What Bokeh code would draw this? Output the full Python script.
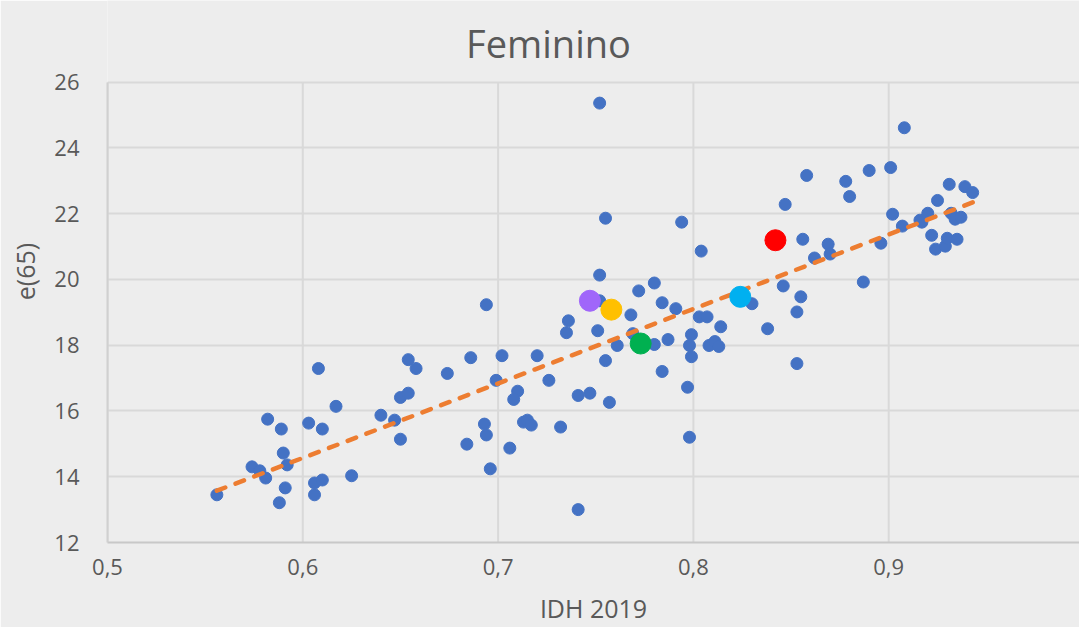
import numpy as np
from bokeh.plotting import figure
from bokeh.models import Range1d, FixedTicker
from bokeh.core.properties import value
from bokeh.embed import file_html
from bokeh.resources import INLINE

# ---- data ----
idh = [0.556, 0.574, 0.578, 0.581, 0.582, 0.589, 0.590, 0.592, 0.591, 0.588,
       0.603, 0.610, 0.608, 0.617, 0.606, 0.610, 0.606, 0.625, 0.640, 0.647,
       0.650, 0.650, 0.654, 0.654, 0.658, 0.674, 0.686, 0.702, 0.720, 0.699,
       0.710, 0.708, 0.726, 0.694, 0.693, 0.694, 0.684, 0.706, 0.696, 0.713,
       0.715, 0.717, 0.732, 0.741, 0.747, 0.757, 0.741, 0.736, 0.735, 0.751,
       0.755, 0.761, 0.752, 0.768, 0.772, 0.780, 0.784, 0.791, 0.769, 0.780,
       0.787, 0.784, 0.797, 0.798, 0.799, 0.798, 0.799, 0.803, 0.807, 0.814,
       0.808, 0.811, 0.813, 0.752, 0.755, 0.794, 0.804, 0.752, 0.847, 0.846,
       0.830, 0.838, 0.855, 0.853, 0.853, 0.887, 0.908, 0.858, 0.878, 0.880,
       0.890, 0.901, 0.856, 0.869, 0.870, 0.862, 0.896, 0.902, 0.907, 0.916,
       0.917, 0.920, 0.925, 0.931, 0.939, 0.943, 0.932, 0.934, 0.937, 0.922,
       0.924, 0.929, 0.930, 0.935]
e65 = [13.45, 14.30, 14.18, 13.96, 15.75, 15.45, 14.72, 14.36, 13.66, 13.21,
       15.63, 15.45, 17.29, 16.14, 13.81, 13.90, 13.45, 14.03, 15.87, 15.72,
       15.14, 16.41, 16.54, 17.56, 17.29, 17.14, 17.62, 17.68, 17.68, 16.93,
       16.60, 16.35, 16.93, 19.23, 15.60, 15.27, 14.99, 14.87, 14.24, 15.66,
       15.72, 15.57, 15.51, 16.47, 16.54, 16.26, 13.00, 18.74, 18.38, 18.44,
       17.53, 17.99, 19.35, 18.92, 19.65, 19.89, 19.29, 19.11, 18.35, 18.02,
       18.17, 17.20, 16.72, 15.20, 18.32, 17.99, 17.65, 18.86, 18.86, 18.56,
       17.99, 18.11, 17.96, 25.36, 21.86, 21.74, 20.86, 20.13, 22.28, 19.80,
       19.26, 18.50, 19.47, 19.01, 17.44, 19.92, 24.61, 23.16, 22.98, 22.52,
       23.31, 23.40, 21.22, 21.07, 20.77, 20.65, 21.10, 21.98, 21.62, 21.80,
       21.74, 22.01, 22.40, 22.89, 22.82, 22.64, 22.01, 21.83, 21.89, 21.34,
       20.92, 21.01, 21.25, 21.22]

hl_idh = [0.842, 0.824, 0.773, 0.758, 0.747]
hl_e65 = [21.19, 19.47, 18.05, 19.08, 19.35]
hl_colors = ["#FF0000", "#00B0F0", "#00B050", "#FFC000", "#A066FA"]

x_ticks = [0.5, 0.6, 0.7, 0.8, 0.9, 1.0]
x_tick_labels = ["0,5", "0,6", "0,7", "0,8", "0,9", "1"]
y_ticks = [12, 14, 16, 18, 20, 22, 24, 26]
y_min, y_max = 12, 26
title_text = "Feminino"

# linear trend from the data
slope, intercept = np.polyfit(idh, e65, 1)
tx = [min(idh), max(idh)]
ty = [slope * v + intercept for v in tx]

BG = "#EDEDED"
TXT = "#595959"
FONT = "Open Sans"
W, H = 1079, 627
LEFT, BOTTOM, AXIS_TOP = 107, 82, 82   # page pixels

# the frame reaches the top of the page so the title can sit inside it;
# the data area (12..26) still spans page y 82..545
px_per_unit = (H - BOTTOM - AXIS_TOP) / (y_max - y_min)
y_top = y_max + AXIS_TOP / px_per_unit
x_right = 0.5 + (W - LEFT) / 1953.0

p = figure(width=W, height=H, x_range=Range1d(0.5, x_right), y_range=Range1d(y_min, y_top),
           output_backend="svg", toolbar_location=None,
           background_fill_color=BG, border_fill_color=BG, outline_line_color=None,
           min_border_left=LEFT, min_border_right=0, min_border_top=0,
           min_border_bottom=BOTTOM)

# title (SVG text), centred at page x 548, baseline at page y 43
title_x = 0.5 + (548 - LEFT) / 1953.0
title_y = y_max + (AXIS_TOP - 43) / px_per_unit
p.text(x=[title_x], y=[title_y], text=[title_text], text_align="center",
       text_baseline="alphabetic", text_font=value(FONT), text_font_size="38px",
       text_color=TXT)

p.xaxis.ticker = FixedTicker(ticks=x_ticks)
p.xaxis.major_label_overrides = {t: l for t, l in zip(x_ticks, x_tick_labels)}
p.yaxis.ticker = FixedTicker(ticks=y_ticks)
p.yaxis.bounds = (y_min, y_max)
p.ygrid.ticker = FixedTicker(ticks=y_ticks)
p.xgrid.visible = False

for ax in (p.xaxis, p.yaxis):
    ax.major_tick_line_color = None
    ax.minor_tick_line_color = None
    ax.major_label_text_font = FONT
    ax.major_label_text_font_size = "22px"
    ax.major_label_text_color = TXT
    ax.axis_label_text_font = FONT
    ax.axis_label_text_font_size = "25px"
    ax.axis_label_text_font_style = "normal"
    ax.axis_label_text_color = TXT

p.xaxis.axis_label = "IDH 2019"
p.yaxis.axis_label = "e(65)"
p.xaxis.axis_line_color = "#C8C8C8"
p.xaxis.axis_line_width = 2
p.yaxis.axis_line_color = "#D0D0D0"
p.yaxis.axis_line_width = 2
p.xaxis.major_label_standoff = 10
p.xaxis.axis_label_standoff = 13
p.yaxis.major_label_standoff = 22
p.yaxis.axis_label_standoff = 9

p.ygrid.grid_line_color = "#D9D9D9"
p.ygrid.grid_line_width = 2
# vertical grid lines limited to the data area (12..26)
p.segment(x0=x_ticks, y0=[y_min] * len(x_ticks), x1=x_ticks, y1=[y_max] * len(x_ticks),
          line_color="#D9D9D9", line_width=2)

p.scatter(idh, e65, size=12, marker="circle", fill_color="#4472C4", line_color="#4472C4")
p.line(tx, ty, line_color="#ED7D31", line_width=4.5, line_dash="9 11", line_cap="round")
p.scatter(hl_idh, hl_e65, size=21, marker="circle", fill_color=hl_colors, line_color=hl_colors)

open("out.html", "w").write(file_html(p, INLINE))
